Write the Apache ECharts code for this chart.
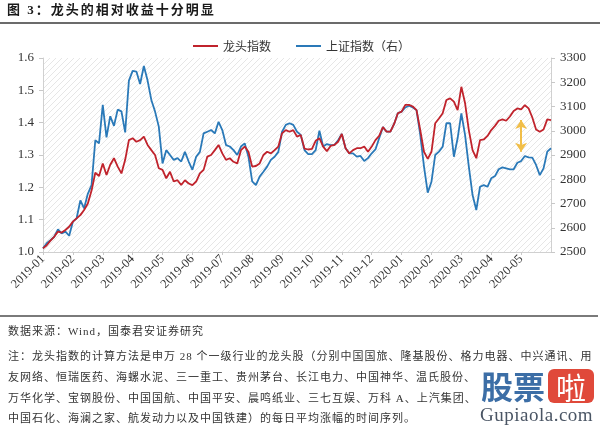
<!DOCTYPE html>
<html><head><meta charset="utf-8">
<script src="https://cdn.jsdelivr.net/npm/echarts/dist/echarts.min.js"></script>
<style>
html,body{margin:0;padding:0;background:#fff;}
#wrap{position:relative;width:600px;height:427px;overflow:hidden;background:#fff;}
#chart{position:absolute;left:0;top:0;width:600px;height:427px;}
.t{position:absolute;white-space:nowrap;font-family:"Liberation Serif","Noto Sans CJK SC",serif;color:#333;line-height:14px;}
.n{font-size:11px;letter-spacing:1px;}
</style></head>
<body><div id="wrap"><div id="chart"></div>
<div class="t" style="left:7px;top:2px;font-size:13px;line-height:16px;font-weight:bold;letter-spacing:2px;color:#1a1a1a">图 3：龙头的相对收益十分明显</div>
<div style="position:absolute;left:0;top:22px;width:600px;height:2px;background:#6b6b6b"></div>
<div style="position:absolute;left:0;top:315px;width:598px;height:1.5px;background:#7a7a7a"></div>
<div class="t n" style="left:8px;top:324px;">数据来源：Wind，国泰君安证券研究</div>
<div class="t n" style="left:8px;top:349px;">注：龙头指数的计算方法是申万 28 个一级行业的龙头股（分别中国国旅、隆基股份、格力电器、中兴通讯、用</div>
<div class="t n" style="left:8px;top:370px;">友网络、恒瑞医药、海螺水泥、三一重工、贵州茅台、长江电力、中国神华、温氏股份、</div>
<div class="t n" style="left:8px;top:391px;">万华化学、宝钢股份、中国国航、中国平安、晨鸣纸业、三七互娱、万科 A、上汽集团、</div>
<div class="t n" style="left:8px;top:411px;">中国石化、海澜之家、航发动力以及中国铁建）的每日平均涨幅的时间序列。</div>
<div class="t" style="left:481px;top:366px;font-size:32px;line-height:38px;font-weight:bold;color:#3c6ea6;font-family:'Noto Sans CJK SC';background:#fff;">股票</div>
<div class="t" style="left:548px;top:369px;width:46px;height:34px;border-radius:6px;background:#e0493a;color:#fff;font-size:30px;line-height:34px;text-align:center;font-family:'Noto Sans CJK SC';">啦</div>
<div class="t" style="left:480px;top:404px;font-size:19px;line-height:22px;letter-spacing:0.5px;color:#4a5564;background:#fff;">Gupiaola.com</div>
</div>
<script>
const months = ['2019-01','2019-02','2019-03','2019-04','2019-05','2019-06','2019-07','2019-08','2019-09','2019-10','2019-11','2019-12','2020-01','2020-02','2020-03','2020-04','2020-05'];
const leaderIndex = [
1.011,1.021,1.035,1.047,1.063,1.060,1.068,1.078,
1.094,1.104,1.114,1.130,1.150,1.190,1.245,1.235,
1.274,1.238,1.270,1.290,1.264,1.243,1.285,1.346,
1.352,1.341,1.346,1.357,1.331,1.315,1.300,1.259,
1.254,1.228,1.248,1.218,1.222,1.207,1.222,1.212,
1.207,1.218,1.243,1.254,1.295,1.300,1.315,1.331,
1.305,1.285,1.290,1.279,1.274,1.315,1.326,1.310,
1.264,1.266,1.274,1.300,1.310,1.305,1.315,1.326,
1.367,1.377,1.372,1.377,1.357,1.362,1.320,1.317,
1.319,1.344,1.352,1.326,1.312,1.328,1.331,1.341,
1.365,1.321,1.305,1.315,1.321,1.321,1.326,1.310,
1.326,1.346,1.359,1.386,1.372,1.372,1.396,1.429,
1.434,1.455,1.455,1.450,1.439,1.377,1.310,1.288,
1.310,1.398,1.413,1.429,1.470,1.475,1.465,1.439,
1.511,1.460,1.377,1.315,1.290,1.346,1.348,1.359,
1.377,1.390,1.406,1.410,1.406,1.419,1.436,1.444,
1.441,1.454,1.444,1.416,1.379,1.372,1.379,1.410,
1.408];
const shIndex = [
2515,2536,2549,2563,2593,2577,2584,2567,
2625,2639,2713,2680,2740,2776,2961,2948,
3107,2973,3060,3020,3087,3080,2993,3207,
3247,3244,3193,3267,3207,3127,3079,3017,
2865,2920,2900,2880,2887,2873,2913,2873,
2839,2893,2913,2989,2996,3003,2989,3037,
3003,2941,2935,2920,2900,2935,2948,2893,
2791,2776,2811,2831,2852,2880,2893,2913,
2996,3024,3031,3024,2996,2983,2920,2904,
2904,2920,3000,2935,2945,2941,2941,2961,
2987,2928,2907,2907,2893,2896,2875,2887,
2907,2923,2969,3015,2996,2996,3028,3072,
3079,3096,3103,3096,3085,2983,2852,2745,
2790,2900,2914,2934,3031,3031,2893,2969,
3072,2982,2852,2735,2673,2769,2776,2769,
2804,2813,2841,2849,2845,2841,2841,2868,
2875,2896,2890,2889,2859,2817,2845,2914,
2928];
const leftTicks = {min:1.0, max:1.6, step:0.1};
const rightTicks = {min:2500, max:3300, step:100};
const arrowAt = {cat:128, top:1.408, bottom:1.31};

const PER = 8;
const categories = leaderIndex.map((_, i) => {
  const m = Math.floor(i / PER);
  return (m < months.length ? months[m] : 'end') + '#' + (i % PER) + '#' + i;
});
const showTick = (i) => i % PER === 0 && i / PER < months.length;

const pc = document.createElement('canvas'); pc.width = 6; pc.height = 6;
const cx = pc.getContext('2d'); cx.strokeStyle = '#e6e6e6'; cx.lineWidth = 1;
cx.beginPath(); cx.moveTo(0,6); cx.lineTo(6,0); cx.moveTo(-1,1); cx.lineTo(1,-1); cx.moveTo(5,7); cx.lineTo(7,5); cx.stroke();

const RED = '#C0232C', BLUE = '#2A79B8';
const serif = '"Liberation Serif","Times New Roman",serif';
const cjk = '"Noto Sans CJK SC",sans-serif';
const chart = echarts.init(document.getElementById('chart'), null, {renderer:'canvas'});
chart.setOption({
  animation: false,
  backgroundColor: 'transparent',
  legend: {
    left: 188, top: 35, icon: 'rect', itemWidth: 25, itemHeight: 2, itemGap: 25,
    textStyle: {fontFamily: cjk, fontSize: 12, color: '#333'},
    data: ['龙头指数', '上证指数（右）']
  },
  grid: {left: 43, right: 49, top: 58, bottom: 175, show: true, borderWidth: 0,
    backgroundColor: {image: pc, repeat: 'repeat'}},
  xAxis: {
    type: 'category', data: categories, boundaryGap: false,
    axisLine: {lineStyle: {color: '#d0d0d0', width: 1}},
    axisTick: {show: true, interval: (i) => showTick(i), length: 3, lineStyle: {color: '#c8c8c8'}},
    axisLabel: {interval: (i) => showTick(i), rotate: 45, margin: 5,
      formatter: (v, i) => months[Math.floor(i / PER)] || '',
      fontFamily: serif, fontSize: 12.5, color: '#333'},
    splitLine: {show: false}
  },
  yAxis: [
    {type: 'value', min: leftTicks.min, max: leftTicks.max, interval: leftTicks.step,
     axisLine: {show: true, lineStyle: {color: '#d0d0d0'}},
     axisTick: {show: true, length: 4, lineStyle: {color: '#c8c8c8'}},
     axisLabel: {formatter: (v) => v.toFixed(1), fontFamily: serif, fontSize: 13, color: '#333', margin: 9},
     splitLine: {show: false}},
    {type: 'value', min: rightTicks.min, max: rightTicks.max, interval: rightTicks.step,
     axisLine: {show: true, lineStyle: {color: '#d0d0d0'}},
     axisTick: {show: true, length: 4, lineStyle: {color: '#c8c8c8'}},
     axisLabel: {formatter: (v) => String(Math.round(v)), fontFamily: serif, fontSize: 13, color: '#333', margin: 9},
     splitLine: {show: false}}
  ],
  series: [
    {name: '龙头指数', type: 'line', yAxisIndex: 0, data: leaderIndex, showSymbol: false,
     lineStyle: {color: RED, width: 1.8}, itemStyle: {color: RED}, z: 3,
     markLine: {silent: true, symbol: ['arrow', 'arrow'], symbolSize: [9, 9],
       label: {show: false}, lineStyle: {color: '#F1BE48', width: 2, type: 'solid'},
       emphasis: {disabled: true},
       data: [[{coord: [categories[arrowAt.cat], arrowAt.top]}, {coord: [categories[arrowAt.cat], arrowAt.bottom]}]]}},
    {name: '上证指数（右）', type: 'line', yAxisIndex: 1, data: shIndex, showSymbol: false,
     lineStyle: {color: BLUE, width: 1.8}, itemStyle: {color: BLUE}, z: 2}
  ]
});
</script>
</body></html>
